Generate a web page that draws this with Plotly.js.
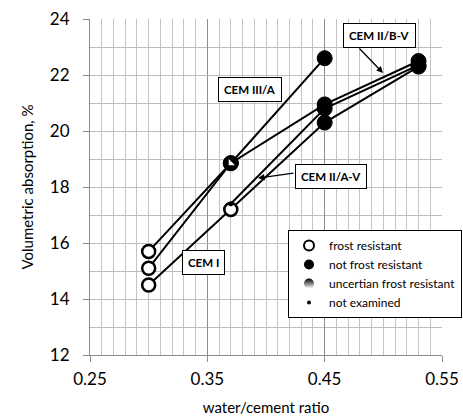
<!DOCTYPE html>
<html>
<head>
<meta charset="utf-8">
<script src="https://cdn.plot.ly/plotly-3.0.1.min.js"></script>
<style>
  html, body { margin: 0; padding: 0; background: #fff; }
  #chart { width: 463px; height: 417px; }
</style>
</head>
<body>
<div id="chart"></div>
<script>
// ---- data ----
const seriesNames = ['CEM I', 'CEM II/A-V', 'CEM II/B-V', 'CEM III/A'];

const wcCEMI    = [0.30, 0.37, 0.45, 0.53];
const absCEMI   = [14.5, 17.2, 20.3, 22.3];
const statCEMI  = ['fr', 'fr', 'nfr', 'nfr'];

const wcCEMIIAV   = [0.37, 0.45, 0.53];
const absCEMIIAV  = [17.4, 20.8, 22.35];
const statCEMIIAV = ['ne', 'nfr', 'nfr'];

const wcCEMIIBV   = [0.30, 0.37, 0.45, 0.53];
const absCEMIIBV  = [15.1, 18.85, 20.95, 22.5];
const statCEMIIBV = ['fr', 'unc', 'nfr', 'nfr'];

const wcCEMIIIA   = [0.30, 0.37, 0.45];
const absCEMIIIA  = [15.7, 18.85, 22.6];
const statCEMIIIA = ['fr', 'unc', 'nfr'];

const legendLabels = ['frost resistant', 'not frost resistant', 'uncertian frost resistant', 'not examined'];
const legendKeys   = ['fr', 'nfr', 'unc', 'ne'];

// label annotations [text, x, y]
const labelText = ['CEM III/A', 'CEM II/B-V', 'CEM II/A-V', 'CEM I'];
const labelX    = [0.386, 0.497, 0.4555, 0.3466];
const labelY    = [21.47, 23.40, 18.37, 15.30];

// ---- styles ----
const FONT = 'Lato, "Open Sans", sans-serif';
function styleFor(k) {
  if (k === 'fr')  return {symbol: 'circle', color: '#ffffff', size: 13, lw: 2.5};
  if (k === 'nfr') return {symbol: 'circle', color: '#000000', size: 15, lw: 1};
  if (k === 'unc') return {symbol: 'circle', color: '#000000', size: 15, lw: 1};
  return {symbol: 'circle', color: '#000000', size: 5, lw: 0};
}

const series = [
  [wcCEMI, absCEMI, statCEMI],
  [wcCEMIIAV, absCEMIIAV, statCEMIIAV],
  [wcCEMIIBV, absCEMIIBV, statCEMIIBV],
  [wcCEMIIIA, absCEMIIIA, statCEMIIIA]
];

const traces = [];
// lines
series.forEach((s, i) => {
  traces.push({
    type: 'scatter', mode: 'lines', x: s[0], y: s[1], name: seriesNames[i],
    line: {color: '#000', width: 2}, showlegend: false, hoverinfo: 'skip'
  });
});
// markers
series.forEach((s, i) => {
  const st = s[2].map(styleFor);
  traces.push({
    type: 'scatter', mode: 'markers', x: s[0], y: s[1], name: seriesNames[i],
    marker: {
      symbol: st.map(d => d.symbol), color: st.map(d => d.color), size: st.map(d => d.size),
      opacity: 1,
      line: {color: '#000', width: st.map(d => d.lw)}
    },
    showlegend: false
  });
  // white wedge for the "uncertain" points
  const ux = [], uy = [];
  s[2].forEach((k, j) => { if (k === 'unc') { ux.push(s[0][j]); uy.push(s[1][j]); } });
  if (ux.length) {
    traces.push({
      type: 'scatter', mode: 'markers', x: ux, y: uy, showlegend: false, hoverinfo: 'skip',
      marker: {symbol: 'triangle-sw', color: '#ffffff', size: 7, opacity: 1, line: {width: 0}}
    });
  }
});
// legend entries
legendKeys.forEach((k, i) => {
  const d = styleFor(k);
  const m = {symbol: d.symbol, color: d.color, size: k === 'ne' ? 4 : 10, opacity: 1,
             line: {color: '#000', width: k === 'fr' ? 2 : 0}};
  if (k === 'unc') m.gradient = {type: 'vertical', color: '#ffffff'};
  traces.push({type: 'scatter', mode: 'markers', x: [null], y: [null], name: legendLabels[i], marker: m, showlegend: true});
});

const annotations = labelText.map((t, i) => ({
  x: labelX[i], y: labelY[i], xref: 'x', yref: 'y', text: '<b>' + t + '</b>', showarrow: false,
  font: {family: FONT, size: 11.5, color: '#000'}, bgcolor: '#fff', bordercolor: '#000', borderwidth: 1,
  borderpad: 5
}));
// arrows
annotations.push({x: 0.4997, y: 22.07, ax: 0.4784, ay: 23.0, axref: 'x', ayref: 'y', xref: 'x', yref: 'y',
  text: '', showarrow: true, arrowhead: 2, arrowsize: 1, arrowwidth: 1.3, arrowcolor: '#000'});
annotations.push({x: 0.3932, y: 18.32, ax: 0.4247, ay: 18.5, axref: 'x', ayref: 'y', xref: 'x', yref: 'y',
  text: '', showarrow: true, arrowhead: 2, arrowsize: 1, arrowwidth: 1.3, arrowcolor: '#000'});

const layout = {
  width: 463, height: 417,
  margin: {l: 90, r: 21, t: 19, b: 62, autoexpand: false},
  paper_bgcolor: '#fff', plot_bgcolor: '#fff',
  font: {family: FONT, color: '#000'},
  showlegend: true,
  legend: {
    x: 0.5625, y: 0.372, xanchor: 'left', yanchor: 'top',
    bgcolor: '#fff', bordercolor: '#000', borderwidth: 1,
    font: {family: FONT, size: 12, color: '#000'}, itemwidth: 30, tracegroupgap: 0
  },
  xaxis: {
    range: [0.25, 0.55], tick0: 0.25, dtick: 0.1, tickformat: '.2f',
    showgrid: true, gridcolor: '#8c8c8c', gridwidth: 1,
    minor: {dtick: 0.01, showgrid: true, gridcolor: '#c4c4c4', gridwidth: 1, ticks: ''},
    showline: true, linecolor: '#8c8c8c', linewidth: 1, mirror: false,
    ticks: 'outside', ticklen: 6, tickcolor: '#8c8c8c', ticklabelstandoff: 3,
    tickfont: {family: FONT, size: 17, color: '#000'},
    title: {text: 'water/cement ratio', font: {family: FONT, size: 15, color: '#000'}, standoff: 14},
    zeroline: false, fixedrange: true
  },
  yaxis: {
    range: [12, 24], tick0: 12, dtick: 2,
    showgrid: true, gridcolor: '#bdbdbd', gridwidth: 1,
    minor: {dtick: 1, showgrid: true, gridcolor: '#bdbdbd', gridwidth: 1, ticks: ''},
    showline: true, linecolor: '#8c8c8c', linewidth: 1,
    ticks: 'outside', ticklen: 6, tickcolor: '#8c8c8c', ticklabelstandoff: 10,
    tickfont: {family: FONT, size: 17, color: '#000'},
    title: {text: 'Volumetric absorption, %', font: {family: FONT, size: 15, color: '#000'}, standoff: 12},
    zeroline: false, fixedrange: true
  },
  annotations: annotations
};

Plotly.newPlot('chart', traces, layout, {displayModeBar: false, staticPlot: true});
</script>
</body>
</html>
